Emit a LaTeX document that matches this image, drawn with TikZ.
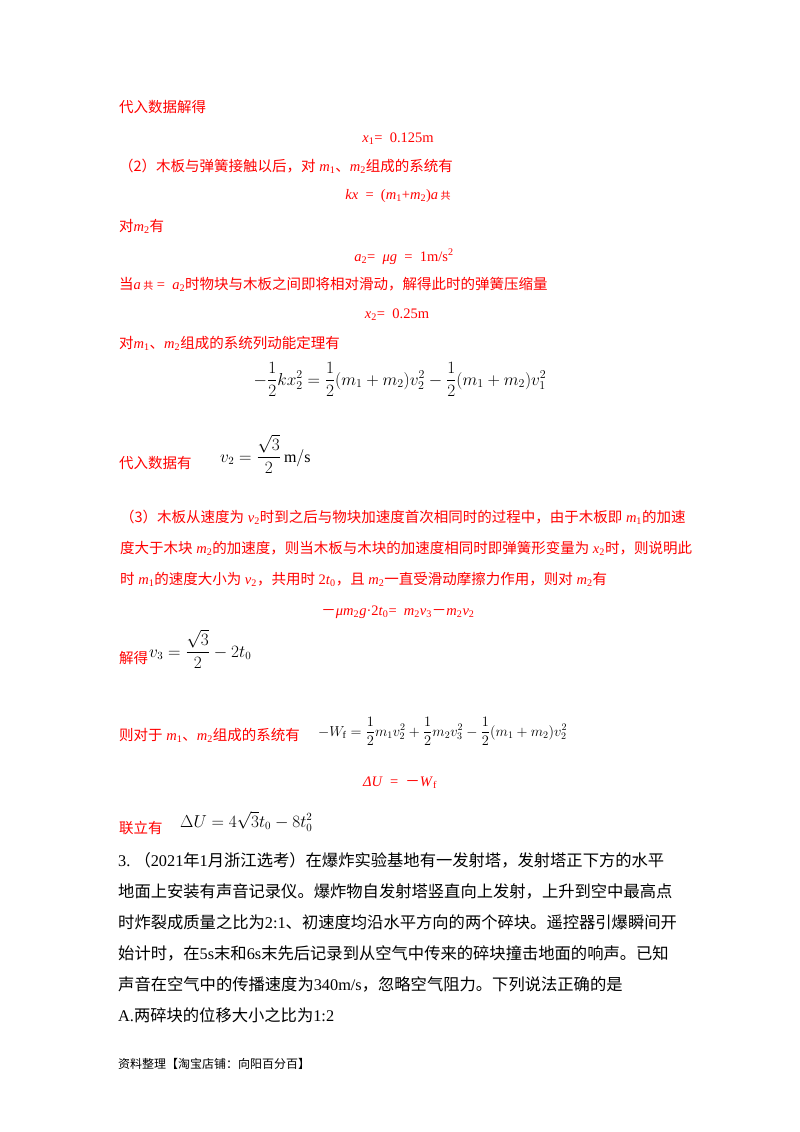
\documentclass[tikz,border=0pt]{standalone}
\usepackage{fontspec}
\setmainfont{Liberation Serif}
\newfontfamily\cjk{Noto Sans CJK SC}
\usepackage{amsmath}
\begin{document}
\begin{tikzpicture}[x=1pt,y=-1pt,
  rt/.style={anchor=base west,inner sep=0pt,text=red,font=\fontsize{14.5}{17}\selectfont},
  rc/.style={anchor=base,inner sep=0pt,text=red,font=\fontsize{14.5}{17}\selectfont},
  bt/.style={anchor=base west,inner sep=0pt,font=\fontsize{16.3}{20}\selectfont},
  mt/.style={anchor=base west,inner sep=0pt,font=\fontsize{16}{19}\selectfont},
  mc/.style={anchor=base,inner sep=0pt,font=\fontsize{17}{20}\selectfont}]
\useasboundingbox (0,0) rectangle (800,1132);
\fill[white] (0,0) rectangle (800,1132);
\node[rt] (l1) at (119,112) {\cjk 代入数据解得};
\node[rc] (l2) at (398,142) {\textit{x}\textsubscript{1}= \ 0.125m};
\node[rt] (l3) at (119,171) {\cjk （2）木板与弹簧接触以后，对\normalfont\textit{ m}\textsubscript{1}\cjk 、\normalfont\textit{m}\textsubscript{2}\cjk 组成的系统有};
\node[rc] (l4) at (398,199) {\textit{kx} \ = \ (\textit{m}\textsubscript{1}+\textit{m}\textsubscript{2})\textit{a}\,{\cjk\fontsize{10}{12}\selectfont 共}};
\node[rt] (l5) at (119,231) {\cjk 对\normalfont\textit{m}\textsubscript{2}\cjk 有};
\node[rc] (l6) at (404,261) {\textit{a}\textsubscript{2}= \ \textit{μg} \ = \ 1m/s\textsuperscript{2}};
\node[rt] (l7) at (119,289) {\cjk 当\normalfont\textit{a}\,{\cjk\fontsize{10}{12}\selectfont 共}\normalfont\ = \ \textit{a}\textsubscript{2}\cjk 时物块与木板之间即将相对滑动，解得此时的弹簧压缩量};
\node[rc] (l8) at (397,318) {\textit{x}\textsubscript{2}= \ 0.25m};
\node[rt] (l9) at (119,348) {\cjk 对\normalfont\textit{m}\textsubscript{1}\cjk 、\normalfont\textit{m}\textsubscript{2}\cjk 组成的系统列动能定理有};
\node[mc] (e1) at (400,385) {$-\dfrac{1}{2}kx_2^2=\dfrac{1}{2}(m_1+m_2)v_2^2-\dfrac{1}{2}(m_1+m_2)v_1^2$};
\node[rt] (l10) at (119,468) {\cjk 代入数据有};
\node[mt] (e2) at (220,462) {$v_2=\dfrac{\sqrt{3}}{2}\,\mathrm{m/s}$};
\node[rt] (p1) at (120,522) {\cjk （3）木板从速度为\normalfont\textit{ v}\textsubscript{2}\cjk 时到之后与物块加速度首次相同时的过程中，由于木板即\normalfont\textit{ m}\textsubscript{1}\cjk 的加速};
\node[rt] (p2) at (120,553) {\cjk 度大于木块\normalfont\textit{ m}\textsubscript{2}\cjk 的加速度，则当木板与木块的加速度相同时即弹簧形变量为\normalfont\textit{ x}\textsubscript{2}\cjk 时，则说明此};
\node[rt] (p3) at (120,584) {\cjk 时\normalfont\textit{ m}\textsubscript{1}\cjk 的速度大小为\normalfont\textit{ v}\textsubscript{2}\cjk ，共用时\normalfont\ 2\textit{t}\textsubscript{0}\cjk ，且\normalfont\textit{ m}\textsubscript{2}\cjk 一直受滑动摩擦力作用，则对\normalfont\textit{ m}\textsubscript{2}\cjk 有};
\node[rc] (p4) at (398,615) {\cjk －\normalfont\textit{μm}\textsubscript{2}\textit{g}·2\textit{t}\textsubscript{0}= \ \textit{m}\textsubscript{2}\textit{v}\textsubscript{3}\cjk －\normalfont\textit{m}\textsubscript{2}\textit{v}\textsubscript{2}};
\node[rt] (l11) at (119,663) {\cjk 解得};
\node[mt] (e3) at (149,657) {$v_3=\dfrac{\sqrt{3}}{2}-2t_0$};
\node[rt] (l12) at (119,740) {\cjk 则对于\normalfont\textit{ m}\textsubscript{1}\cjk 、\normalfont\textit{m}\textsubscript{2}\cjk 组成的系统有};
\node[mt,font=\fontsize{14.5}{17}\selectfont] (e4) at (318,736) {$-W_{\mathrm{f}}=\dfrac{1}{2}m_1v_2^2+\dfrac{1}{2}m_2v_3^2-\dfrac{1}{2}(m_1+m_2)v_2^2$};
\node[rc] (l13) at (400,786) {\textit{ΔU} \ = \ {\cjk －}\textit{W}\textsubscript{f}};
\node[rt] (l14) at (119,833) {\cjk 联立有};
\node[mt] (e5) at (180,827) {$\Delta U=4\sqrt{3}t_0-8t_0^2$};
\node[bt] (q1) at (118,866) {3.\ {\cjk （}2021{\cjk 年}1{\cjk 月浙江选考）在爆炸实验基地有一发射塔，发射塔正下方的水平}};
\node[bt] (q2) at (118,897) {\cjk 地面上安装有声音记录仪。爆炸物自发射塔竖直向上发射，上升到空中最高点};
\node[bt] (q3) at (118,928) {{\cjk 时炸裂成质量之比为}2:1{\cjk 、初速度均沿水平方向的两个碎块。遥控器引爆瞬间开}};
\node[bt] (q4) at (118,959) {{\cjk 始计时，在}5s{\cjk 末和}6s{\cjk 末先后记录到从空气中传来的碎块撞击地面的响声。已知}};
\node[bt] (q5) at (118,990) {{\cjk 声音在空气中的传播速度为}340m/s{\cjk ，忽略空气阻力。下列说法正确的是}};
\node[bt] (q6) at (118,1021) {A.{\cjk 两碎块的位移大小之比为}1:2};
\node[anchor=base west,inner sep=0pt,font=\cjk\fontsize{12}{14}\selectfont] (ft) at (118,1068) {资料整理【淘宝店铺：向阳百分百】};
\end{tikzpicture}
\end{document}
